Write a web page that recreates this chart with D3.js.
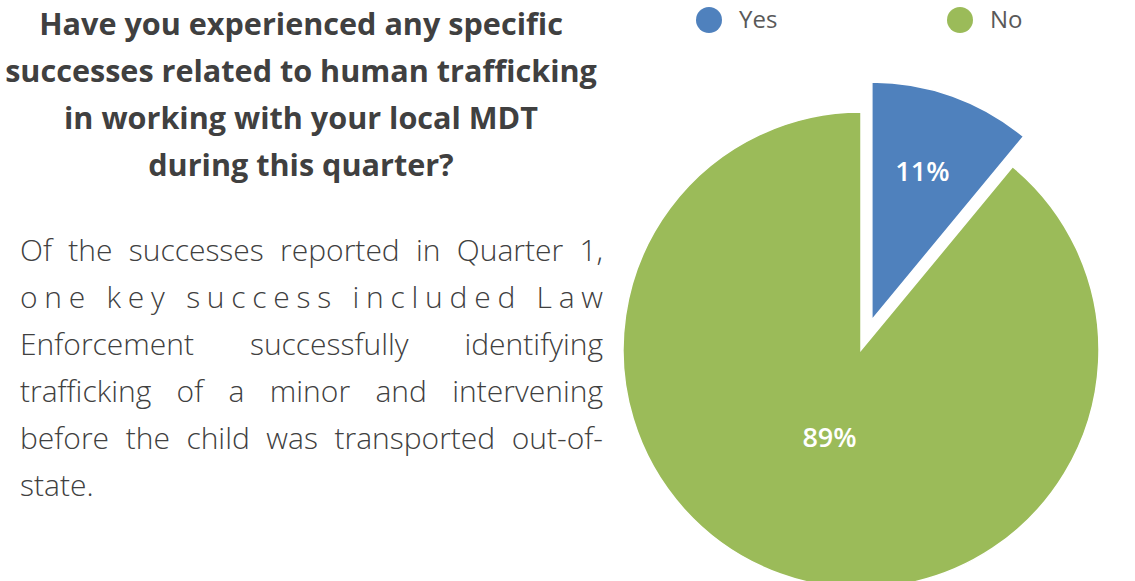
<!DOCTYPE html>
<html>
<head>
<meta charset="utf-8">
<script src="https://cdn.jsdelivr.net/npm/d3@7"></script>
<style>
  html, body { margin: 0; padding: 0; background: #fff; }
  svg { display: block; font-family: "Open Sans", Lato, sans-serif; }
</style>
</head>
<body>
<svg id="chart" width="1135" height="581"></svg>
<script>
// Data
var categories = ['Yes', 'No'];
var values = [11, 89];
var colors = ['#4f81bd', '#9bbb59'];
var titleLines = [
    'Have you experienced any specific',
    'successes related to human trafficking',
    'in working with your local MDT',
    'during this quarter?'
];
var bodyLines = [
    'Of the successes reported in Quarter 1,',
    'one key success included Law',
    'Enforcement successfully identifying',
    'trafficking of a minor and intervening',
    'before the child was transported out-of-',
    'state.'
];

var svg = d3.select('#chart');

// Title (centred, bold), sized so the widest line spans ~592px
var title = svg.append('text')
    .attr('text-anchor', 'middle')
    .attr('fill', '#404040')
    .style('font-size', '30px')
    .style('font-weight', 700);
title.selectAll('tspan').data(titleLines).enter().append('tspan')
    .attr('x', 301)
    .attr('y', (d, i) => 35 + i*47)
    .text((d) => d);
var widest = d3.max(title.selectAll('tspan').nodes(), (n) => n.getComputedTextLength());
title.style('font-size', Math.min(32, 30*592/widest) + 'px');

// Body paragraph, justified between left and right
var bodyLeft = 20, bodyRight = 603;
var bodyW = bodyRight - bodyLeft;
var body = svg.append('g')
    .attr('fill', '#404040')
    .style('font-size', '28px')
    .style('font-weight', 300);
var bodyText = body.selectAll('text').data(bodyLines).enter().append('text')
    .attr('x', bodyLeft)
    .attr('y', (d, i) => 261 + i*47)
    .text((d) => d);
// the "out-of-" line is nearly full width in the original
var fitW = bodyText.filter((d, i) => i === 4).node().getComputedTextLength();
body.style('font-size', Math.min(30, 28*575/fitW) + 'px');

bodyText.each(function(d, i) {
    if (i === bodyLines.length - 1)
        return;
    var natural = this.getComputedTextLength();
    var extra = bodyW - natural;
    var gaps = d.split(' ').length - 1;
    if (extra <= 0 || gaps === 0)
        return;
    // very short lines get spread letter by letter, the rest word by word
    if (extra > 0.25*bodyW)
        d3.select(this).attr('textLength', bodyW).attr('lengthAdjust', 'spacing');
    else
        d3.select(this).attr('word-spacing', extra/gaps);
});

// Pie
var cx = 861, cy = 350, radius = 238, explode = 32;
var pie = d3.pie().sort(null).value((d) => d.value);
var arc = d3.arc().innerRadius(0).outerRadius(radius);
var labelRadius = {Yes: 158, No: 93};

var slices = pie(categories.map((c, i) => ({name: c, value: values[i], color: colors[i]})));

var pieG = svg.append('g').attr('transform', 'translate(' + cx + ',' + cy + ')');
var sliceG = pieG.selectAll('g.slice').data(slices).enter().append('g')
    .classed('slice', true)
    .attr('transform', (d) => {
        if (d.data.name !== 'Yes')
            return null;
        var a = (d.startAngle + d.endAngle)/2;
        return 'translate(' + (Math.sin(a)*explode) + ',' + (-Math.cos(a)*explode) + ')';
    });

sliceG.append('path')
    .attr('d', arc)
    .attr('fill', (d) => d.data.color)
    .attr('stroke', '#fff')
    .attr('stroke-width', 1.5);

sliceG.append('text')
    .attr('transform', (d) => {
        var r = labelRadius[d.data.name];
        var c = d3.arc().innerRadius(r).outerRadius(r).centroid(d);
        if (d.data.name === 'Yes')
            c[0] -= 3;
        return 'translate(' + c + ')';
    })
    .attr('text-anchor', 'middle')
    .attr('dy', '0.35em')
    .attr('fill', '#fff')
    .style('font-size', '27px')
    .style('font-weight', 600)
    .text((d) => d.data.value + '%');

// Legend
var legendX = d3.scaleOrdinal().domain(categories).range([709, 960]);
var legend = svg.append('g').selectAll('g').data(categories).enter().append('g')
    .attr('transform', (d) => 'translate(' + legendX(d) + ',20)');
legend.append('circle')
    .attr('r', 13)
    .attr('fill', (d, i) => colors[i]);
legend.append('text')
    .attr('x', 30)
    .attr('dy', '0.35em')
    .attr('fill', '#595959')
    .style('font-size', '24px')
    .text((d) => d);
</script>
</body>
</html>
